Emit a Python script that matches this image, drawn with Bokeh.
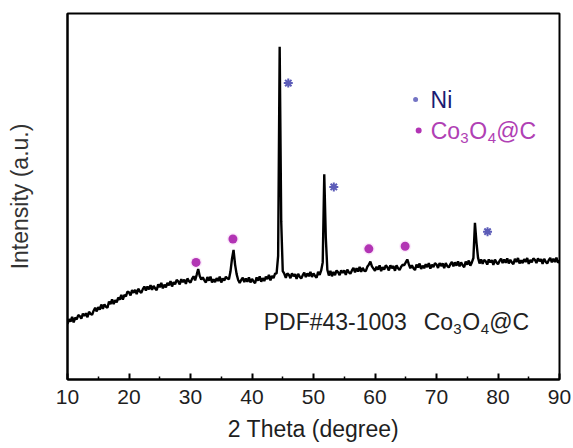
from bokeh.plotting import figure
from bokeh.models import Range1d, FixedTicker, Label
from bokeh.embed import file_html
from bokeh.resources import INLINE

# ---------------- data ----------------
two_theta_start = 10.0
two_theta_step = 0.25
intensity = [
    152, 165, 158, 171, 156, 169, 164, 176,   # 10
    173, 166, 180, 174, 181, 170, 185, 179,   # 12
    177, 188, 196, 186, 198, 191, 205, 193,   # 14
    205, 199, 196, 213, 206, 219, 206, 217,   # 16
    211, 224, 218, 231, 218, 231, 227, 240,   # 18
    238, 230, 244, 237, 245, 233, 248, 241,   # 20
    237, 247, 254, 243, 254, 246, 258, 245,   # 22
    256, 249, 244, 260, 252, 264, 249, 259,   # 24
    252, 264, 257, 269, 254, 266, 260, 272,   # 26
    268, 260, 274, 266, 273, 261, 276, 269,   # 28
    265, 275, 282, 271, 286, 302, 283, 273,   # 30
    279, 271, 265, 280, 270, 281, 265, 274,   # 32
    266, 277, 269, 281, 265, 276, 270, 281,   # 34
    276, 274, 295, 330, 354, 314, 288, 272,   # 36
    264, 272, 278, 266, 276, 267, 279, 265,   # 38
    275, 268, 263, 279, 270, 282, 267, 277,   # 40
    269, 281, 274, 286, 271, 283, 277, 289,   # 42
    290, 338, 909, 432, 296, 289, 278, 290,   # 44
    286, 277, 290, 282, 288, 275, 289, 281,   # 46
    276, 285, 292, 280, 290, 282, 294, 280,   # 48
    290, 283, 278, 294, 286, 298, 320, 561,   # 50
    388, 300, 284, 297, 282, 294, 285, 298,   # 52
    293, 285, 298, 291, 298, 286, 300, 293,   # 54
    289, 298, 305, 293, 304, 295, 308, 294,   # 56
    305, 297, 296, 308, 314, 322, 309, 303,   # 58
    297, 308, 300, 312, 296, 307, 300, 312,   # 60
    307, 298, 312, 304, 310, 297, 312, 304,   # 62
    299, 308, 314, 312, 320, 328, 315, 304,   # 64
    312, 304, 299, 314, 306, 317, 302, 311,   # 66
    304, 315, 307, 318, 303, 314, 307, 318,   # 68
    314, 305, 318, 310, 317, 304, 318, 310,   # 70
    306, 315, 321, 309, 320, 311, 323, 309,   # 72
    320, 312, 307, 322, 314, 325, 311, 320,   # 74
    332, 428, 374, 333, 317, 328, 316, 327,   # 76
    323, 314, 328, 320, 326, 313, 328, 320,   # 78
    315, 324, 330, 318, 328, 319, 331, 317,   # 80
    327, 320, 315, 330, 321, 332, 317, 326,   # 82
    318, 329, 321, 332, 316, 327, 320, 331,   # 84
    327, 318, 331, 323, 329, 316, 330, 322,   # 86
    317, 326, 332, 320, 330, 321, 333, 319,   # 88
    325,                                      # 90
]
two_theta = [two_theta_start + i * two_theta_step for i in range(len(intensity))]

ni_mark_x = [45.9, 53.3, 78.3]
ni_mark_y = [810, 526, 404]
co_mark_x = [30.9, 36.9, 59.0, 64.9]
co_mark_y = [320, 384, 357, 364]

x_major_ticks = [10, 20, 30, 40, 50, 60, 70, 80, 90]
x_minor_ticks = [15, 25, 35, 45, 55, 65, 75, 85]

legend_ni_pos = (66.6, 765)
legend_co_pos = (67.1, 680)
pdf_text_pos = (41.9, 158)

FONT = "Liberation Sans"
NI_COLOR = "#5c5cb8"
CO_COLOR = "#b234b4"
TEXT_DARK = "#1e1e1e"

# ---------------- figure ----------------
p = figure(width=573, height=448, x_range=Range1d(10, 90), y_range=Range1d(0, 1000),
           output_backend="svg", toolbar_location=None,
           min_border_left=67, min_border_right=14, min_border_top=13, min_border_bottom=69)
p.background_fill_color = "white"
p.border_fill_color = "white"
p.outline_line_color = "black"
p.outline_line_width = 2
p.xgrid.visible = False
p.ygrid.visible = False

xa = p.xaxis[0]
xa.ticker = FixedTicker(ticks=x_major_ticks, minor_ticks=x_minor_ticks)
xa.axis_line_width = 2
xa.axis_line_color = "black"
xa.major_tick_in = 6
xa.major_tick_out = 0
xa.minor_tick_in = 3
xa.minor_tick_out = 0
xa.major_tick_line_width = 2
xa.minor_tick_line_width = 1.5
xa.major_label_text_font = FONT
xa.major_label_text_font_size = "21px"
xa.major_label_text_color = TEXT_DARK
xa.major_label_standoff = 10
xa.axis_label = "2 Theta (degree)"
xa.axis_label_text_font = FONT
xa.axis_label_text_font_size = "23px"
xa.axis_label_text_font_style = "normal"
xa.axis_label_text_color = TEXT_DARK
xa.axis_label_standoff = 9

ya = p.yaxis[0]
ya.ticker = FixedTicker(ticks=[])
ya.axis_line_width = 2
ya.axis_line_color = "black"
ya.major_tick_in = 0
ya.major_tick_out = 0
ya.minor_tick_in = 0
ya.minor_tick_out = 0
ya.major_label_standoff = 0
ya.axis_label = "Intensity (a.u.)"
ya.axis_label_text_font = FONT
ya.axis_label_text_font_size = "23px"
ya.axis_label_text_font_style = "normal"
ya.axis_label_text_color = "#333333"
ya.axis_label_standoff = 35

# ---------------- glyphs ----------------
p.line(two_theta, intensity, line_color="black", line_width=2.4)
p.scatter(ni_mark_x, ni_mark_y, marker="asterisk", size=9, line_color=NI_COLOR, line_width=2)
p.scatter(co_mark_x, co_mark_y, marker="circle", size=12, fill_color="#f4c4f4",
          fill_alpha=0.35, line_color=None)
p.scatter(co_mark_x, co_mark_y, marker="circle", size=9, fill_color=CO_COLOR, line_color=None)

# legend markers
p.scatter([legend_ni_pos[0]], [legend_ni_pos[1]], marker="circle", size=5,
          fill_color="#7474c4", line_color=None)
p.scatter([legend_co_pos[0]], [legend_co_pos[1]], marker="circle", size=6,
          fill_color=CO_COLOR, line_color=None)


def add_text(x, y, text, dx, size, color, dy=0):
    p.add_layout(Label(x=x, y=y, text=text, x_offset=dx, y_offset=dy,
                       text_font=FONT, text_font_size=f"{size}px", text_color=color,
                       text_baseline="middle", text_align="left"))


def add_formula(x, y, dx, color):
    # Co3O4@C with subscripts
    add_text(x, y, "Co", dx, 23, color)
    add_text(x, y, "3", dx + 29.5, 15, color, dy=-7)
    add_text(x, y, "O", dx + 38.5, 23, color)
    add_text(x, y, "4", dx + 57, 15, color, dy=-7)
    add_text(x, y, "@C", dx + 65.5, 23, color)


add_text(legend_ni_pos[0], legend_ni_pos[1], "Ni", 15, 23, "#1c1c72")
add_formula(legend_co_pos[0], legend_co_pos[1], 12, "#b040b4")

add_text(pdf_text_pos[0], pdf_text_pos[1], "PDF#43-1003", 0, 23, "#222222")
add_formula(pdf_text_pos[0], pdf_text_pos[1], 160, "#222222")

open("out.html", "w").write(file_html(p, INLINE))
